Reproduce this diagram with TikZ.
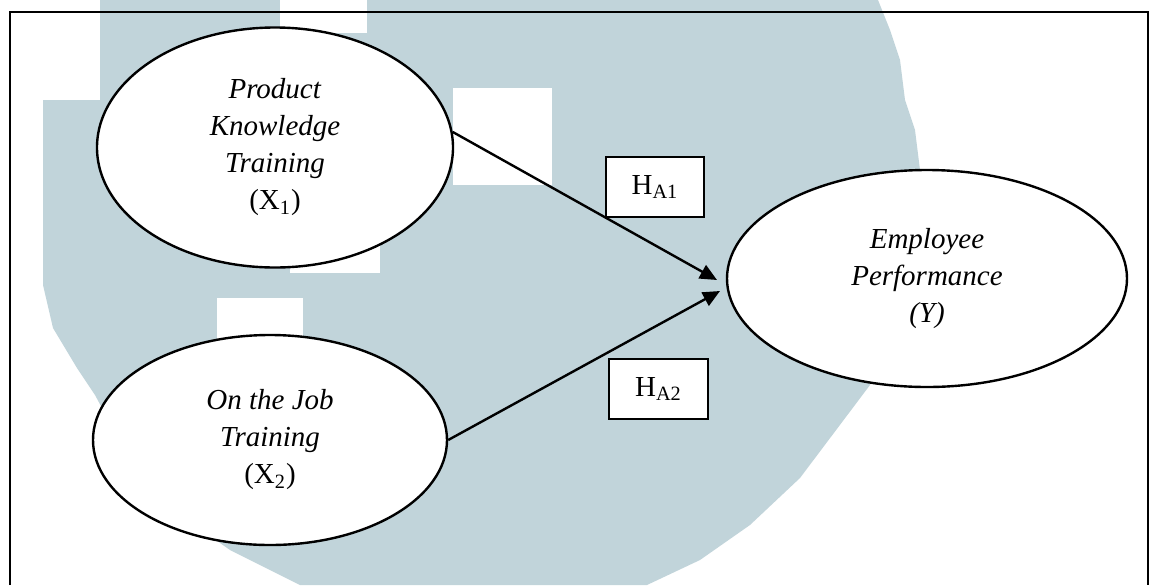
\documentclass[tikz,border=0pt]{standalone}
\usepackage{fontspec}
\setmainfont{Liberation Serif}
\usepackage{tikz}
\usetikzlibrary{arrows.meta}
\usetikzlibrary{shapes.geometric}
\definecolor{wmblue}{RGB}{193,212,218}
\tikzset{latent/.style={ellipse, draw, line width=1.2pt, fill=white, inner sep=0pt, align=center, font=\fontsize{14.5}{18.5}\selectfont}}
\tikzset{hypbox/.style={draw, line width=1pt, fill=white, inner sep=0pt, font=\fontsize{14.5}{18.5}\selectfont}}
\tikzset{effect/.style={line width=1.2pt, -{Triangle[length=8.5pt,width=7.5pt]}}}

\begin{document}
\begin{tikzpicture}[x=0.5pt,y=-0.5pt]
\useasboundingbox (0,0) rectangle (1152,585);
% watermark behind the model
\fill[wmblue] (100,0) -- (878,0) -- (890,30) -- (900,60) -- (905,100) -- (915,130) -- (920,170)
 -- (920,240) -- (900,320) -- (870,385) -- (800,478) -- (750,525) -- (700,560) -- (647,585)
 -- (300,585) -- (230,550) -- (180,515) -- (130,460) -- (95,395) -- (77,368) -- (53,328)
 -- (43,285) -- (43,100) -- (100,100) -- cycle;
\fill[white] (280,0) rectangle (367,33);
\fill[white] (453,88) rectangle (552,185);
\fill[white] (290,243) rectangle (380,273);
\fill[white] (217,298) rectangle (303,345);
% frame
\draw[line width=1.2pt] (10,585) -- (10,12) -- (1148,12) -- (1148,585);

\node[latent, minimum width=178pt, minimum height=120pt] (pk) at (275,147.5) {\textit{Product}\\\textit{Knowledge}\\\textit{Training}\\(X\textsubscript{1})};
\node[latent, minimum width=177pt, minimum height=105pt] (oj) at (270,440) {\textit{On the Job}\\\textit{Training}\\(X\textsubscript{2})};
\node[latent, minimum width=200pt, minimum height=108.5pt] (ep) at (927,278.5) {\textit{Employee}\\\textit{Performance}\\\textit{(Y)}};

\node[hypbox, minimum width=49pt, minimum height=30pt] (ha1) at (655,187) {H\textsubscript{A1}};
\node[hypbox, minimum width=49.5pt, minimum height=30pt] (ha2) at (658.5,389) {H\textsubscript{A2}};

\coordinate (in1) at (717,280);
\coordinate (in2) at (720,291);
\draw[effect] (pk.5) -- (in1);
\draw[effect] (oj.east) -- (in2);
\end{tikzpicture}
\end{document}
